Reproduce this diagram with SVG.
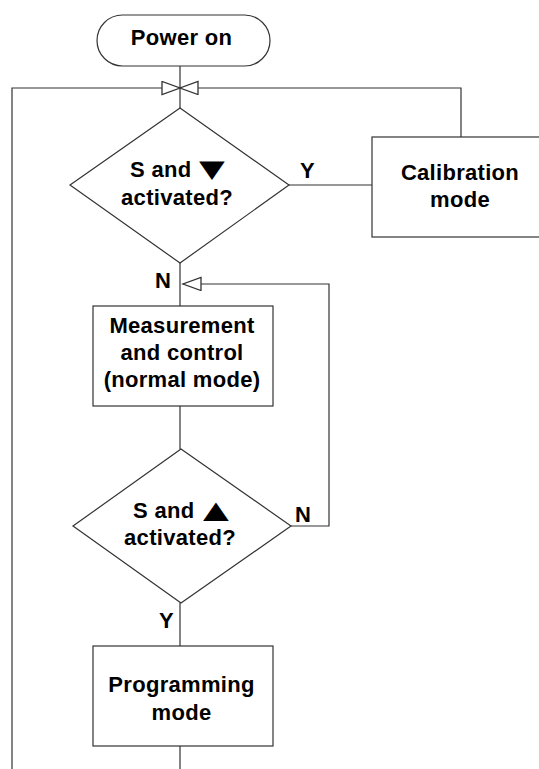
<svg xmlns="http://www.w3.org/2000/svg" width="539" height="769" viewBox="0 0 539 769">
<style>
.shape{fill:#fff;stroke:#333;stroke-width:1.2}
.conn{fill:none;stroke:#333;stroke-width:1.2}
text{font-family:"Liberation Sans","Helvetica Neue",Arial,sans-serif;font-weight:bold;font-size:22px;letter-spacing:0.3px;fill:#000}
.c{text-anchor:middle}
.sym{font-family:"DejaVu Sans",sans-serif;font-weight:normal;font-size:24px;letter-spacing:0}
</style>
<defs>
<marker id="open" markerUnits="userSpaceOnUse" markerWidth="22" markerHeight="16" refX="19" refY="7" orient="auto">
<path d="M1,0.5 L19,7 L1,13.5 Z" fill="#fff" stroke="#333" stroke-width="1.3"/>
</marker>
</defs>
<rect width="539" height="769" fill="#fff"/>
<g id="connectors">
<path class="conn" d="M180,66 V108"/>
<path class="conn" d="M12,769 V88 H180" marker-end="url(#open)"/>
<path class="conn" d="M461,137 V88 H180" marker-end="url(#open)"/>
<path class="conn" d="M289,185 H372"/>
<path class="conn" d="M180,263 V306"/>
<path class="conn" d="M180,406 V449"/>
<path class="conn" d="M291,526 H329 V284 H183" marker-end="url(#open)"/>
<path class="conn" d="M180,603 V646"/>
<path class="conn" d="M180,746 V769"/>
<text x="300" y="178">Y</text>
<text x="155" y="288">N</text>
<text x="295" y="522">N</text>
<text x="159" y="628">Y</text>
</g>
<g id="power-on">
<rect class="shape" x="97" y="15" width="173" height="51" rx="25.5" ry="25.5"/>
<text class="c" x="181.5" y="45">Power on</text>
</g>
<g id="decision-calibration">
<polygon class="shape" points="180,108 289,185 180,263 70,185"/>
<text x="130" y="177">S and</text>
<text class="sym" transform="translate(199,177) scale(1.4,1)">▼</text>
<text class="c" x="177" y="205">activated?</text>
</g>
<g id="calibration-mode">
<rect class="shape" x="372" y="137" width="180" height="100"/>
<text class="c" x="460" y="180">Calibration</text>
<text class="c" x="460" y="207">mode</text>
</g>
<g id="measurement">
<rect class="shape" x="93" y="306" width="180" height="100"/>
<text class="c" x="182" y="333">Measurement</text>
<text class="c" x="182" y="360">and control</text>
<text class="c" x="182" y="387">(normal mode)</text>
</g>
<g id="decision-programming">
<polygon class="shape" points="181,449 291,526 181,603 73,526"/>
<text x="133" y="518">S and</text>
<text class="sym" transform="translate(203,518) scale(1.4,1)">▲</text>
<text class="c" x="180" y="545">activated?</text>
</g>
<g id="programming-mode">
<rect class="shape" x="93" y="646" width="180" height="100"/>
<text class="c" x="181.5" y="692">Programming</text>
<text class="c" x="181.5" y="720">mode</text>
</g>
</svg>
